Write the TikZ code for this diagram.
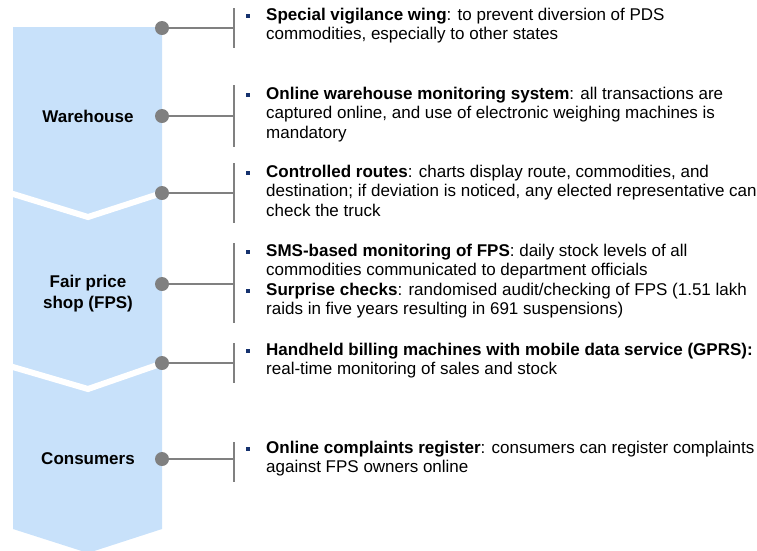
\documentclass[tikz,border=0pt]{standalone}
\usepackage{fontspec}
\setmainfont{Liberation Sans}
\usetikzlibrary{positioning,calc}
\definecolor{colblue}{RGB}{200,225,250}
\definecolor{gry}{RGB}{128,128,128}
\definecolor{navy}{RGB}{22,50,110}
\tikzset{
  sep/.style={white,line width=6pt},
  dot/.style={circle,fill=gry,minimum size=14pt,inner sep=0pt},
  link/.style={draw=gry,line width=1.5pt},
  bul/.style={fill=navy,minimum size=3.6pt,inner sep=0pt},
  txt/.style={anchor=north west,align=left,inner sep=0pt,
              font=\fontsize{17}{19.3}\selectfont,execute at begin node=\strut},
  lab/.style={align=center,inner sep=0pt,font=\bfseries\fontsize{17}{21}\selectfont}
}
\begin{document}
\begin{tikzpicture}[x=1pt,y=-1pt]
  \useasboundingbox (0,0) rectangle (757,550);
  % column with chevrons
  \fill[colblue] (13,27) -- (162,27) -- (162,529) -- (88,553) -- (13,529) -- cycle;
  \draw[sep] (5,191.5) -- (88,217) -- (170,190.4);
  \draw[sep] (5,364.7) -- (88,389) -- (170,360.6);
  \node[lab] (wh) at (88,116) {Warehouse};
  \node[lab] (fps) at (88,294) {Fair price\\shop (FPS)};
  \node[lab] (con) at (88,459) {Consumers};
  % bars
  \coordinate (b1t) at (234,8);   \coordinate (b1b) at (234,48);
  \coordinate (b2t) at (234,85);  \coordinate (b2b) at (234,147);
  \coordinate (b3t) at (234,163); \coordinate (b3b) at (234,223);
  \coordinate (b4t) at (234,243); \coordinate (b4b) at (234,323);
  \coordinate (b5t) at (234,343); \coordinate (b5b) at (234,383);
  \coordinate (b6t) at (234,442); \coordinate (b6b) at (234,482);
  \foreach \i in {1,...,6} \draw[link] (b\i t) -- (b\i b);
  % dots and links
  \node[dot] (d1) at (162,28) {};
  \node[dot] (d2) at (162,116) {};
  \node[dot] (d3) at (162,193) {};
  \node[dot] (d4) at (162,284) {};
  \node[dot] (d5) at (162,363) {};
  \node[dot] (d6) at (162,459) {};
  \foreach \i in {1,...,6} \draw[link] (d\i.east) -- (d\i -| b\i t);
  % items
  \node[bul] (u1) at (248,16) {};
  \node[txt] (t1) at (266,7.9) {\textbf{Special vigilance wing}: to prevent diversion of PDS\\commodities, especially to other states};
  \node[bul] (u2) at (248,95) {};
  \node[txt] (t2) at (266,86.9) {\textbf{Online warehouse monitoring system}: all transactions are\\captured online, and use of electronic weighing machines is\\mandatory};
  \node[bul] (u3) at (248,173) {};
  \node[txt] (t3) at (266,164.9) {\textbf{Controlled routes}: charts display route, commodities, and\\destination; if deviation is noticed, any elected representative can\\check the truck};
  \node[bul] (u4) at (248,252) {};
  \node[txt] (t4) at (266,243.9) {\textbf{SMS-based monitoring of FPS}: daily stock levels of all\\commodities communicated to department officials};
  \node[bul] (u5) at (248,291) {};
  \node[txt] (t5) at (266,282.9) {\textbf{Surprise checks}: randomised audit/checking of FPS (1.51 lakh\\raids in five years resulting in 691 suspensions)};
  \node[bul] (u6) at (248,351) {};
  \node[txt] (t6) at (266,342.9) {\textbf{Handheld billing machines with mobile data service (GPRS):}\\real-time monitoring of sales and stock};
  \node[bul] (u7) at (248,449) {};
  \node[txt] (t7) at (266,440.9) {\textbf{Online complaints register}: consumers can register complaints\\against FPS owners online};
\end{tikzpicture}
\end{document}
